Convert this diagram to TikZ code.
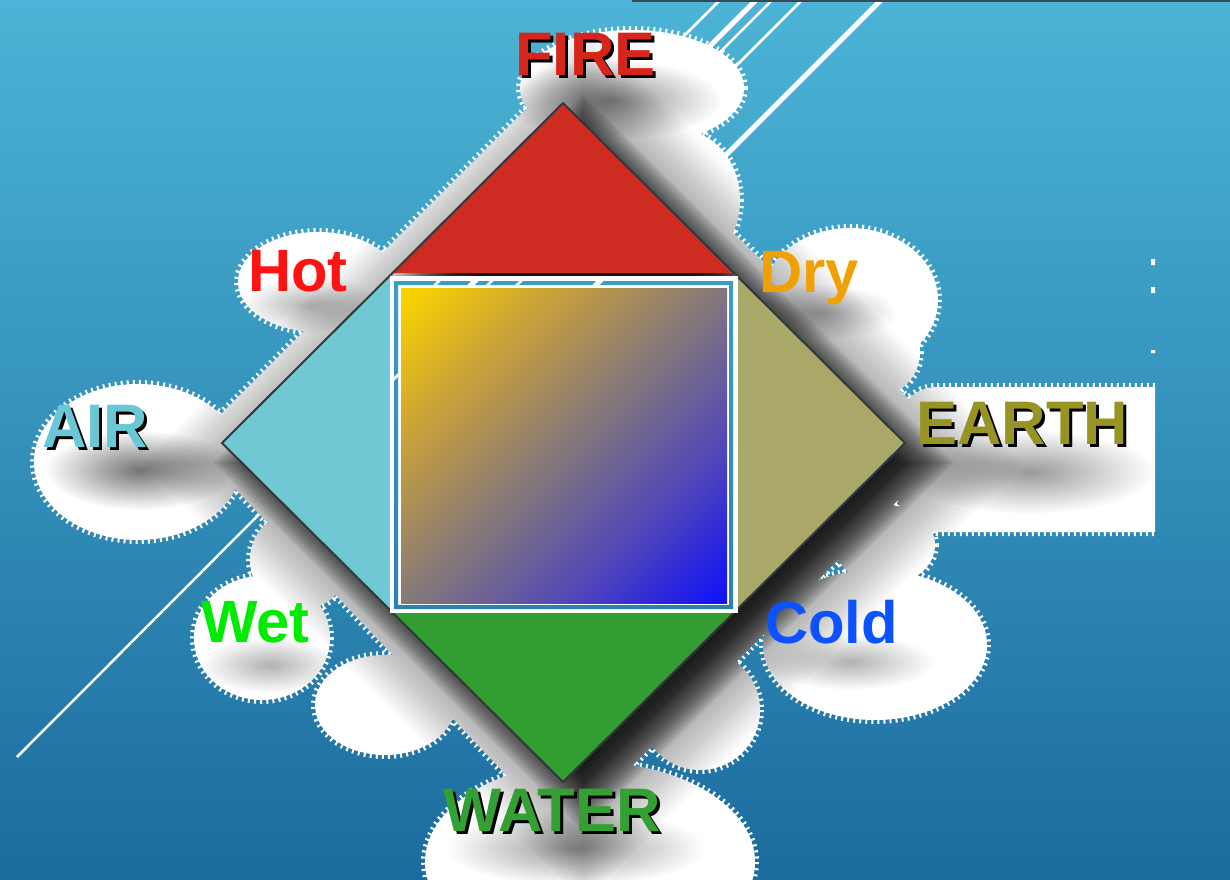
\documentclass[tikz,border=0pt]{standalone}
\usepackage{fontspec}
\setmainfont{Liberation Sans}
\usepackage{tikz}
\usetikzlibrary{calc,fadings}
\definecolor{skytop}{RGB}{76,180,214}
\definecolor{skybottom}{RGB}{27,108,158}
\definecolor{topline}{RGB}{58,72,82}
\definecolor{firefill}{RGB}{206,44,34}
\definecolor{airfill}{RGB}{112,200,212}
\definecolor{earthfill}{RGB}{170,168,104}
\definecolor{waterfill}{RGB}{50,158,50}
\definecolor{firetext}{RGB}{214,38,28}
\definecolor{airtext}{RGB}{104,200,214}
\definecolor{earthtext}{RGB}{152,148,36}
\definecolor{watertext}{RGB}{52,160,52}
\definecolor{hottext}{RGB}{255,18,18}
\definecolor{drytext}{RGB}{240,160,0}
\definecolor{wettext}{RGB}{0,235,0}
\definecolor{coldtext}{RGB}{12,82,255}
\definecolor{edgegray}{RGB}{48,58,58}
\definecolor{sqyellow}{RGB}{248,210,0}
\definecolor{sqamber}{RGB}{200,160,60}
\definecolor{sqgray}{RGB}{132,120,122}
\definecolor{sqviolet}{RGB}{80,70,185}
\definecolor{sqblue}{RGB}{20,20,245}
\tikzfading[name=softfade, inner color=transparent!0, outer color=transparent!100]
\pgfdeclareverticalshading{mixsquare}{100bp}{color(0bp)=(sqblue); color(16bp)=(sqblue); color(32bp)=(sqviolet); color(50bp)=(sqgray); color(68bp)=(sqamber); color(84bp)=(sqyellow); color(100bp)=(sqyellow)}

\newcommand{\skyfill}{\shade[top color=skytop, bottom color=skybottom] (0,0) rectangle (1230,879);}
\newcommand{\skystreaks}{%
  \draw[streak] (772,0) -- (17,757);
  \draw[streak] (720,0) -- (400,320);
  \draw[streak, line width=0.1cm] (756,0) -- (400,356);
  \draw[streak] (802,0) -- (400,402);
  \draw[streak, line width=0.1cm] (881,0) -- (400,481);}
\newcommand{\cloudpath}{%
  (632,88) ellipse [x radius=112, y radius=58]
  (680,200) ellipse [x radius=60, y radius=70]
  (850,300) ellipse [x radius=88, y radius=72]
  (875,352) ellipse [x radius=45, y radius=45]
  (885,545) ellipse [x radius=50, y radius=40]
  (875,645) ellipse [x radius=112, y radius=75]
  (700,710) ellipse [x radius=60, y radius=60]
  (590,862) ellipse [x radius=165, y radius=100]
  (385,705) ellipse [x radius=70, y radius=50]
  (262,638) ellipse [x radius=68, y radius=62]
  (300,560) ellipse [x radius=50, y radius=50]
  (138,462) ellipse [x radius=104, y radius=78]
  (318,282) ellipse [x radius=80, y radius=50]
  (563,72) -- (955,443) -- (563,835) -- (192,443) -- cycle
  [rounded corners=0.8cm] (897,387) -- (1230,387) -- (1230,532) -- (897,532) -- cycle}
% diamond grown by #1 (px) and moved 20 px right and down
\newcommand{\castpath}[1]{($(F)+(20,{20-1.414*#1})$) -- ($(E)+({20+1.414*#1},20)$) --
  ($(W)+(20,{20+1.414*#1})$) -- ($(A)+({20-1.414*#1},20)$) -- cycle}

\begin{document}
\begin{tikzpicture}[x=0.02cm, y=-0.02cm,
    streak/.style={white, line width=0.05cm},
    cloudedge/.style={draw=white, line width=0.16cm, dash pattern=on 0.04cm off 0.08cm},
    haze/.style={fill=black, path fading=softfade},
    rim/.style={draw=edgegray, line width=0.04cm, line join=round},
    element/.style={font=\fontsize{35}{40}\selectfont\bfseries, inner sep=0pt, anchor=base west},
    quality/.style={font=\fontsize{34}{40}\selectfont\bfseries, inner sep=0pt, anchor=base west}
]
    \useasboundingbox (0,0) rectangle (1230,879);

    % Background
    \skyfill
    \skystreaks
    \draw[topline, line width=0.06cm] (632,1) -- (1230,1);
    \fill[white] (1151,259) rectangle (1155,265) (1151,287) rectangle (1155,293) (1151,350) rectangle (1155,353);

    % Corners of the diamond
    \coordinate (F) at (563,103);
    \coordinate (E) at (905,443);
    \coordinate (W) at (563,782);
    \coordinate (A) at (222,443);
    \coordinate (hotc) at ($(F)!0.5!(A)$);
    \coordinate (dryc) at ($(F)!0.5!(E)$);
    \coordinate (coldc) at ($(E)!0.5!(W)$);
    \coordinate (wetc) at ($(W)!0.5!(A)$);

    % White cloud
    \begin{scope}
        \clip (0,0) rectangle (1155,879);
        \path[cloudedge] \cloudpath;
        \fill[white] \cloudpath;
        \clip \cloudpath;

        % Soft shadows
        \foreach \r in {-30,-28,...,20}
            \fill[black, fill opacity=0.07] \castpath{\r};
        \foreach \r in {22,26,...,70}
            \fill[black, fill opacity=0.025] \castpath{\r};
        \fill[haze, fill opacity=0.45] (612,100) ellipse [x radius=110, y radius=40];
        \fill[haze, fill opacity=0.3] (310,305) ellipse [x radius=70, y radius=28];
        \fill[haze, fill opacity=0.3] (822,312) ellipse [x radius=75, y radius=28];
        \fill[haze, fill opacity=0.55] (140,470) ellipse [x radius=95, y radius=40];
        \fill[haze, fill opacity=0.4] (1030,472) ellipse [x radius=125, y radius=42];
        \fill[haze, fill opacity=0.3] (270,665) ellipse [x radius=70, y radius=28];
        \fill[haze, fill opacity=0.3] (850,662) ellipse [x radius=85, y radius=28];
        \fill[haze, fill opacity=0.4] (575,848) ellipse [x radius=130, y radius=38];
    \end{scope}

    % Diamond
    \fill[firefill] (F) -- (dryc) -- (hotc) -- cycle;
    \fill[airfill] (A) -- (hotc) -- (wetc) -- cycle;
    \fill[earthfill] (E) -- (coldc) -- (dryc) -- cycle;
    \fill[waterfill] (W) -- (wetc) -- (coldc) -- cycle;
    \draw[rim] (F) -- (E) -- (W) -- (A) -- cycle;

    % Centre square
    \fill[white] (390,276) rectangle (738,613);
    \begin{scope}[even odd rule]
        \clip (394,281) rectangle (733,609) (398,285) rectangle (729,605);
        \skyfill
        \skystreaks
    \end{scope}
    \shade[shading=mixsquare, shading angle=45] (401,288) rectangle (727,603);

    % Elements
    \node[element, text=black] (fire-sh) at (518,78) {FIRE};
    \node[element, text=firetext] (fire) at (515,75) {FIRE};
    \node[element, text=black] (air-sh) at (45,450) {AIR};
    \node[element, text=airtext] (air) at (42,447) {AIR};
    \node[element, text=black] (earth-sh) at (919,447) {EARTH};
    \node[element, text=earthtext] (earth) at (916,444) {EARTH};
    \node[element, text=black] (water-sh) at (446,834) {WATER};
    \node[element, text=watertext] (water) at (443,831) {WATER};

    % Qualities
    \node[quality, text=hottext] (hot) at (248,291) {Hot};
    \node[quality, text=drytext] (dry) at (759,292) {Dry};
    \node[quality, text=wettext] (wet) at (201,642) {Wet};
    \node[quality, text=coldtext] (cold) at (765,643) {Cold};
\end{tikzpicture}
\end{document}
